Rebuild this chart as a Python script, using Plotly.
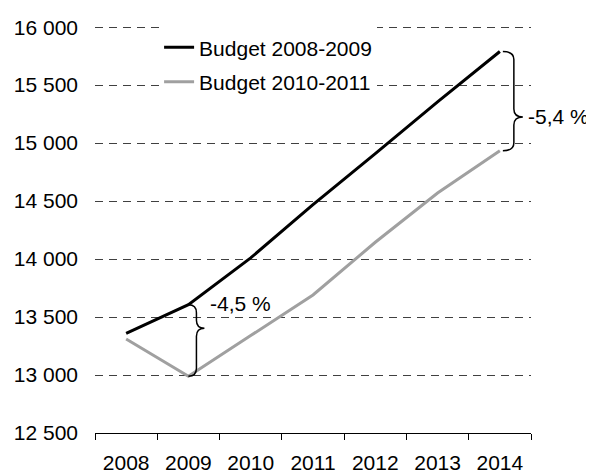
import plotly.graph_objects as go

years = ["2008", "2009", "2010", "2011", "2012", "2013", "2014"]
budget_2008_2009 = [13360, 13607, 14010, 14470, 14910, 15355, 15790]
budget_2010_2011 = [13311, 12990, 13340, 13690, 14145, 14570, 14934]
y_ticks = [12500, 13000, 13500, 14000, 14500, 15000, 15500, 16000]
gap_labels = ["-4,5 %", "-5,4 %"]
gap_years = ["2009", "2014"]

FONT = "Arial, Liberation Sans, sans-serif"

# page has an 8px body margin: compensate so the plot lands where the reference has it
W, H = 594, 473
M_L, M_R, M_T, M_B = 87, 71, 18, 48
plot_w = W - M_L - M_R
plot_h = H - M_T - M_B
y_range = (12500, 16010)

fig = go.Figure()
fig.add_trace(go.Scatter(x=years, y=budget_2008_2009, mode="lines", name="Budget 2008-2009",
                         line=dict(color="#000000", width=3), legendgroup="a"))
fig.add_trace(go.Scatter(x=years, y=budget_2010_2011, mode="lines", name="Budget 2010-2011",
                         line=dict(color="#A0A0A0", width=3), legendgroup="b"))

px_per_cat = plot_w / len(years)
units_per_px = (y_range[1] - y_range[0]) / plot_h


def brace(xc, top, bot, frac, offs):
    x0, x1, x2 = (xc + o / px_per_cat for o in offs)
    tip = top - (top - bot) * frac
    r = 8 * units_per_px
    path = (f"M{x0},{top} Q{x1},{top} {x1},{top - r} "
            f"L{x1},{tip + r} Q{x1},{tip} {x2},{tip} "
            f"Q{x1},{tip} {x1},{tip - r} "
            f"L{x1},{bot + r} Q{x1},{bot} {x0},{bot}")
    return path, tip


fracs = [0.33, 0.66]
offsets = [(0, 8, 16), (3, 14, 23)]
shapes = []
annotations = []
for i, (yr_lbl, lbl) in enumerate(zip(gap_years, gap_labels)):
    idx = years.index(yr_lbl)
    top = budget_2008_2009[idx]
    bot = budget_2010_2011[idx]
    path, tip = brace(idx, top, bot, fracs[i], offsets[i])
    shapes.append(dict(type="path", xref="x", yref="y", path=path,
                       line=dict(color="#000000", width=1.5)))
    if i == 0:
        annotations.append(dict(x=idx, y=top, xref="x", yref="y", text=lbl, showarrow=False,
                                xanchor="left", yanchor="middle", xshift=20, yshift=1,
                                font=dict(size=21, color="#000000", family=FONT)))
    else:
        annotations.append(dict(x=idx, y=tip, xref="x", yref="y", text=lbl, showarrow=False,
                                xanchor="left", yanchor="middle", xshift=26, yshift=1,
                                font=dict(size=21, color="#000000", family=FONT)))

fig.update_layout(
    width=W, height=H,
    margin=dict(l=M_L, r=M_R, t=M_T, b=M_B),
    paper_bgcolor="white", plot_bgcolor="white",
    font=dict(family=FONT, size=21, color="#000000"),
    separators=", ",
    showlegend=True,
    legend=dict(x=0.147, y=0.997, xanchor="left", yanchor="top", bgcolor="white",
                font=dict(size=21, color="#000000", family=FONT), tracegroupgap=4,
                borderwidth=0),
    shapes=shapes,
    annotations=annotations,
)
fig.update_xaxes(type="category", categoryorder="array", categoryarray=years,
                 range=[-0.5, len(years) - 0.5], tickson="boundaries",
                 showline=True, linecolor="#000000", linewidth=1,
                 ticks="outside", ticklen=6, tickcolor="#000000", tickwidth=1,
                 ticklabelstandoff=11,
                 showgrid=False, zeroline=False, automargin=False,
                 tickfont=dict(size=21, color="#000000", family=FONT))
fig.update_yaxes(range=list(y_range), tickvals=y_ticks, tickformat=",d",
                 showgrid=True, gridcolor="#404040", gridwidth=1, griddash="8px,6px",
                 showline=False, ticks="", zeroline=False, automargin=False,
                 ticklabelstandoff=16,
                 tickfont=dict(size=21, color="#000000", family=FONT))

fig.write_html("out.html")
